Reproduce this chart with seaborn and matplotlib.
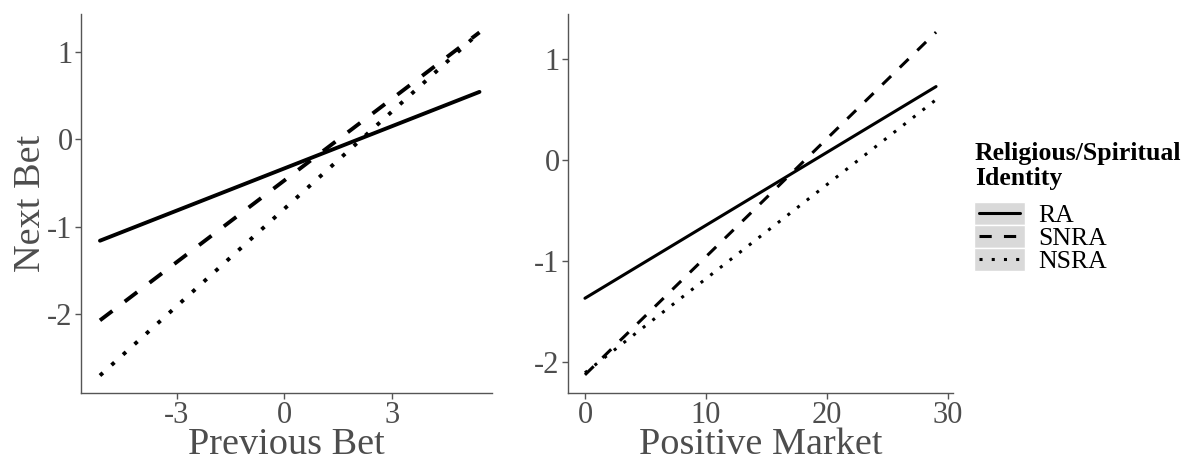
import matplotlib
matplotlib.use("Agg")
import matplotlib.pyplot as plt
from matplotlib.patches import Rectangle
from matplotlib.lines import Line2D
import seaborn as sns
import pandas as pd

# ---- data ----
groups = ["RA", "SNRA", "NSRA"]

prev_bet = [-5.15, 5.45]
ra_prev = [-1.16, 0.54]
snra_prev = [-2.07, 1.22]
nsra_prev = [-2.70, 1.22]

market = [0, 29]
ra_mkt = [-1.37, 0.73]
snra_mkt = [-2.13, 1.27]
nsra_mkt = [-2.11, 0.60]

xticks_prev = [-3, 0, 3]
xticks_mkt = [0, 10, 20, 30]
yticks = [-2, -1, 0, 1]

legend_title = "Religious/Spiritual\nIdentity"

def make_df(x, series):
    rows = []
    for g, ys in zip(groups, series):
        for xv, yv in zip(x, ys):
            rows.append({"x": xv, "y": yv, "group": g})
    return pd.DataFrame(rows)

df_prev = make_df(prev_bet, [ra_prev, snra_prev, nsra_prev])
df_mkt = make_df(market, [ra_mkt, snra_mkt, nsra_mkt])

# ---- style ----
sns.set_style("ticks")
plt.rcParams["font.family"] = ["Liberation Serif", "DejaVu Serif"]
plt.rcParams["axes.unicode_minus"] = False
plt.rcParams["lines.scale_dashes"] = True

dash_map = {"RA": "", "SNRA": (4, 4), "NSRA": (1, 3)}
txt_grey = "#4d4d4d"
axis_grey = "#555555"

W, H = 1188, 462
fig = plt.figure(figsize=(W / 100, H / 100), dpi=100)

def px_axes(x0, x1, ytop, ybot):
    return fig.add_axes([x0 / W, 1 - ybot / H, (x1 - x0) / W, (ybot - ytop) / H])

ax1 = px_axes(81, 492, 14, 393)
ax2 = px_axes(568, 953, 14, 393)

sns.lineplot(data=df_prev, x="x", y="y", style="group", style_order=groups,
             dashes=dash_map, color="black", linewidth=2.8, legend=False,
             estimator=None, sort=False, ax=ax1)
sns.lineplot(data=df_mkt, x="x", y="y", style="group", style_order=groups,
             dashes=dash_map, color="black", linewidth=2.2, legend=False,
             estimator=None, sort=False, ax=ax2)

ax1.set_xlim(-5.68, 5.8)
ax1.set_ylim(-2.9, 1.43)
ax2.set_xlim(-1.4, 30.4)
ax2.set_ylim(-2.31, 1.45)

ax1.set_xticks(xticks_prev)
ax2.set_xticks(xticks_mkt)
for ax in (ax1, ax2):
    ax.set_yticks(yticks)
    sns.despine(ax=ax)
    for s in ("left", "bottom"):
        ax.spines[s].set_color(axis_grey)
        ax.spines[s].set_linewidth(1.0)
    ax.tick_params(axis="both", labelsize=22, labelcolor=txt_grey,
                   color=axis_grey, length=4, width=1, pad=2)

ax1.set_xlabel("Previous Bet", fontsize=27.5, color=txt_grey)
ax1.set_ylabel("Next Bet", fontsize=27.5, color=txt_grey)
ax2.set_xlabel("Positive Market", fontsize=27.5, color=txt_grey)
ax2.set_ylabel("")
ax1.xaxis.set_label_coords(0.5, -0.09)
ax2.xaxis.set_label_coords(0.5, -0.09)
ax1.yaxis.set_label_coords(-0.08, 0.5)

# ---- legend (drawn in a pixel-coordinate overlay axes) ----
lax = fig.add_axes([940 / W, 1 - 290 / H, (W - 940) / W, 160 / H])
lax.set_xlim(940, W)
lax.set_ylim(290, 130)
lax.axis("off")
lax.text(975, 160, legend_title.split("\n")[0], fontsize=18.5, fontweight="bold",
         color="black", va="baseline", ha="left")
lax.text(975, 185, legend_title.split("\n")[1], fontsize=18.5, fontweight="bold",
         color="black", va="baseline", ha="left")
row_top = 202
row_h = 23
for i, g in enumerate(groups):
    y0 = row_top + i * row_h
    lax.add_patch(Rectangle((974, y0), 51, row_h, facecolor="#d9d9d9",
                            edgecolor="white", linewidth=1.0))
    yc = y0 + row_h / 2
    ln = Line2D([979, 1020], [yc, yc], color="black", linewidth=2.2)
    if dash_map[g]:
        ln.set_dashes(dash_map[g])
    lax.add_line(ln)
    lax.text(1038, y0 + 20, g, fontsize=18.5, color="black", va="baseline", ha="left")

fig.savefig("out.png", dpi=100)
